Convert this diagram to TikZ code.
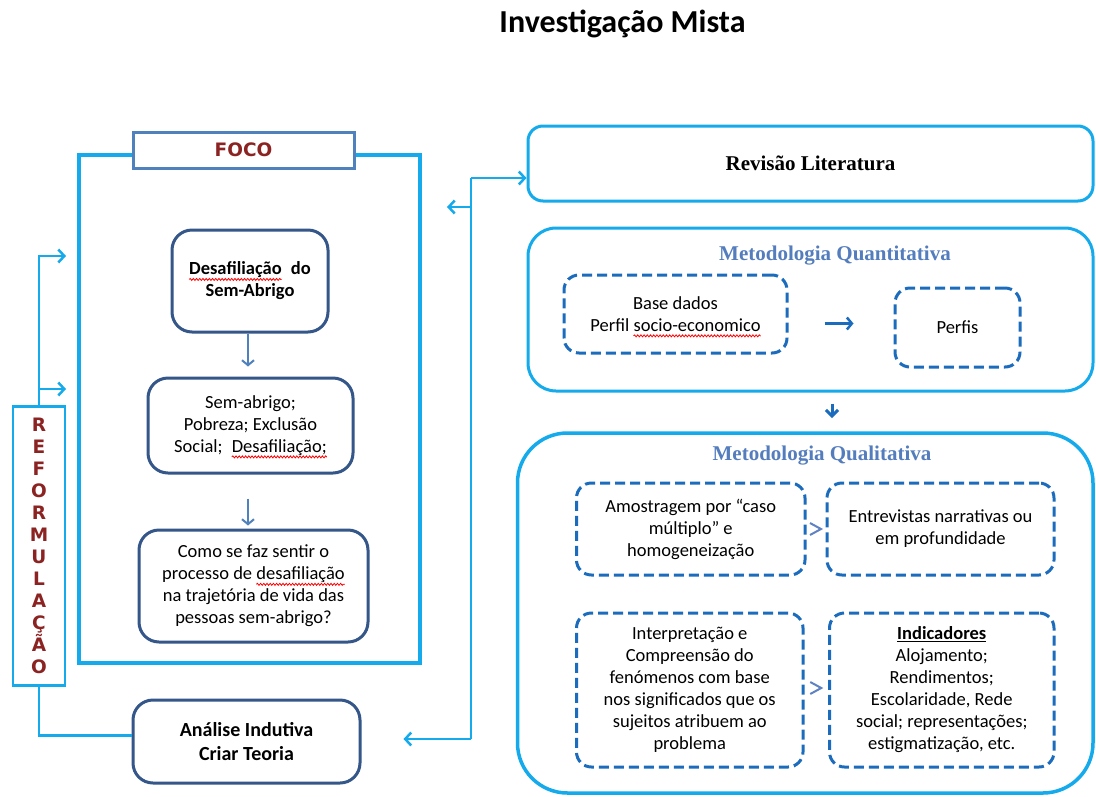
\documentclass[tikz,border=0pt]{standalone}
\usepackage{fontspec}
\setmainfont{Carlito}
\newfontfamily\timesfont{Liberation Serif}
\newfontfamily\heavyfont{DejaVu Sans}
\usetikzlibrary{arrows.meta,calc,decorations.pathmorphing}

\definecolor{skyline}{RGB}{20,170,235}
\definecolor{navyedge}{RGB}{52,86,136}
\definecolor{dashblue}{RGB}{28,108,190}
\definecolor{midblue}{RGB}{79,129,189}
\definecolor{titleblue}{RGB}{84,125,190}
\definecolor{darkred}{RGB}{140,35,35}
\definecolor{chevblue}{RGB}{95,130,195}

% red wavy underline for misspelt words
\newsavebox\wavebox
\newcommand\spellerr[1]{%
  \sbox\wavebox{#1}%
  \leavevmode\rlap{\tikz[overlay]{\draw[red, line width=0.8pt, solid, sharp corners,
      decorate, decoration={snake, amplitude=1pt, segment length=3.2pt}]
      (0pt,-4.5pt) -- (\wd\wavebox,-4.5pt);}}%
  \usebox\wavebox}

\tikzset{
  bodytext/.style={font=\fontsize{18.5}{22}\selectfont},
  lbline/.style={draw=skyline, line width=2.5pt},
  conn/.style={lbline, -{Straight Barb[length=6pt,width=13pt]}},
  innerarrow/.style={draw=midblue, line width=2pt, -{Straight Barb[length=5pt,width=12pt]}},
  darkbox/.style={draw=navyedge, line width=3pt, rounded corners=20pt, align=center,
    inner sep=0pt, bodytext},
  dashbox/.style={draw=dashblue, line width=3pt, dash pattern=on 10pt off 5pt,
    rounded corners=15pt, align=center, inner sep=0pt, bodytext},
  panel/.style={draw=skyline, line width=3pt, inner sep=0pt},
  paneltitle/.style={text=titleblue, font=\timesfont\bfseries\fontsize{21}{25}\selectfont, anchor=base},
  chev/.style={draw=chevblue, line width=2pt, line join=miter},
}

\begin{document}
\begin{tikzpicture}[x=1pt,y=-1pt]
\path[fill=white] (0,0) rectangle (1096,796);
\useasboundingbox (0,0) rectangle (1096,796);

% heading
\node[anchor=base, font=\bfseries\fontsize{32}{38}\selectfont] (title) at (622.5,32) {Investigação Mista};

% ---------- left column: FOCO ----------
\node[draw=skyline, line width=4pt, minimum width=341pt, minimum height=508pt, inner sep=0pt] (frame) at (249.5,409) {};
\node[draw=midblue, fill=white, line width=3pt, minimum width=221pt, minimum height=36pt, inner sep=0pt,
  text=darkred, font=\heavyfont\bfseries\fontsize{18.5}{22}\selectfont] (foco) at (243.5,150) {FOCO};

\node[darkbox, minimum width=156pt, minimum height=102pt, font=\bfseries\fontsize{18.5}{22}\selectfont] (d1) at (250,281)
  {\spellerr{Desafiliação}\enspace do\\Sem-Abrigo};
\node[darkbox, minimum width=205pt, minimum height=95pt] (d2) at (250.5,425.5)
  {Sem-abrigo;\\Pobreza; Exclusão\\Social;\enspace \spellerr{Desafiliação;}};
\node[darkbox, minimum width=229pt, minimum height=112pt] (d3) at (253.5,586)
  {Como se faz sentir o\\processo de \spellerr{desafiliação}\\na trajetória de vida das\\pessoas sem-abrigo?};
\node[darkbox, minimum width=227pt, minimum height=83pt, font=\bfseries\fontsize{20}{24}\selectfont] (analise) at (246.5,741.5)
  {Análise Indutiva\\Criar Teoria};

\draw[innerarrow, shorten >=10pt] ([xshift=-2pt]d1.south) -- ([xshift=-2pt]d1.south |- d2.north);
\draw[innerarrow, shorten <=24pt, shorten >=3pt] ([xshift=-2.5pt]d2.south) -- ([xshift=-2.5pt]d2.south |- d3.north);

% REFORMULAÇÃO column
\node[draw=skyline, line width=2.5pt, minimum width=52pt, minimum height=279pt, inner sep=0pt, align=center,
  text=darkred, font=\heavyfont\bfseries\fontsize{18.5}{22}\selectfont] (reform) at (39,546)
  {R\\E\\F\\O\\R\\M\\U\\L\\A\\Ç\\Ã\\O};

\coordinate (in1) at (66,256);
\coordinate (in2) at (66,389);
\draw[conn] (reform.north) |- (in1);
\draw[conn] (reform.north) |- (in2);
\draw[lbline] (reform.south) |- ([yshift=6pt]analise.west);

% ---------- right column ----------
\node[panel, rounded corners=15pt, minimum width=565pt, minimum height=75pt,
  font=\timesfont\bfseries\fontsize{21}{25}\selectfont] (revisao) at (810.5,163.5) {Revisão Literatura};

\node[panel, rounded corners=28pt, minimum width=565pt, minimum height=163pt] (quant) at (810.5,309.5) {};
\node[paneltitle] (quanttitle) at (835,260) {Metodologia Quantitativa};
\node[dashbox, minimum width=223pt, minimum height=78pt] (base) at (675.5,314)
  {Base dados\\Perfil \spellerr{socio-economico}};
\node[dashbox, minimum width=125pt, minimum height=79pt] (perfis) at (957.5,327.5) {Perfis};
\draw[draw=dashblue, line width=2.5pt, -{Straight Barb[length=5pt,width=12pt]}, shorten <=36pt, shorten >=40pt]
  ([yshift=4pt]perfis.west -| base.east) -- ([yshift=4pt]perfis.west);

\draw[draw=dashblue, line width=3pt, -{Straight Barb[length=6pt,width=12pt]}, shorten <=11pt, shorten >=15pt]
  ([xshift=21.5pt]quant.south) -- ([xshift=21.5pt]quant.south |- 0,433);

\node[panel, line width=3.5pt, rounded corners=50pt, minimum width=575.5pt, minimum height=360pt] (qual) at (805.25,613) {};
\node[paneltitle] (qualtitle) at (822,460) {Metodologia Qualitativa};
\node[dashbox, minimum width=228.5pt, minimum height=92pt] (amost) at (690.75,529)
  {Amostragem por “caso\\múltiplo” e\\homogeneização};
\node[dashbox, minimum width=227pt, minimum height=92pt] (entrev) at (940.5,529)
  {Entrevistas narrativas ou\\em profundidade};
\node[dashbox, minimum width=226.5pt, minimum height=154pt] (interp) at (689.75,690)
  {Interpretação e\\Compreensão do\\fenómenos com base\\nos significados que os\\sujeitos atribuem ao\\problema};
\node[dashbox, minimum width=224.5pt, minimum height=154pt] (indic) at (941.75,690)
  {\underline{\textbf{Indicadores}}\\Alojamento;\\Rendimentos;\\Escolaridade, Rede\\social; representações;\\estigmatização, etc.};

% chevrons between the paired boxes
\coordinate (c1) at ($(amost.east)!0.5!(entrev.west)$);
\coordinate (c2) at ($(interp.east)!0.5!(indic.west)$);
\draw[chev] ($(c1)+(-6,-6)$) -- ($(c1)+(5,0)$) -- ($(c1)+(-6,6)$);
\draw[chev] ($(c2)+(-6,-8)$) -- ($(c2)+(5,-2)$) -- ($(c2)+(-6,4)$);

% feedback line between the columns
\coordinate (vtop) at (471,178);
\coordinate (vmid) at (471,207);
\coordinate (vbot) at (471,739);
\draw[lbline] (vtop) -- (vbot);
\draw[conn] (vtop) -- (vtop -| revisao.west);
\draw[conn, shorten >=25pt] (vmid) -- (vmid -| frame.east);
\draw[conn, shorten >=42pt] (vbot) -- (vbot -| analise.east);
\end{tikzpicture}
\end{document}
